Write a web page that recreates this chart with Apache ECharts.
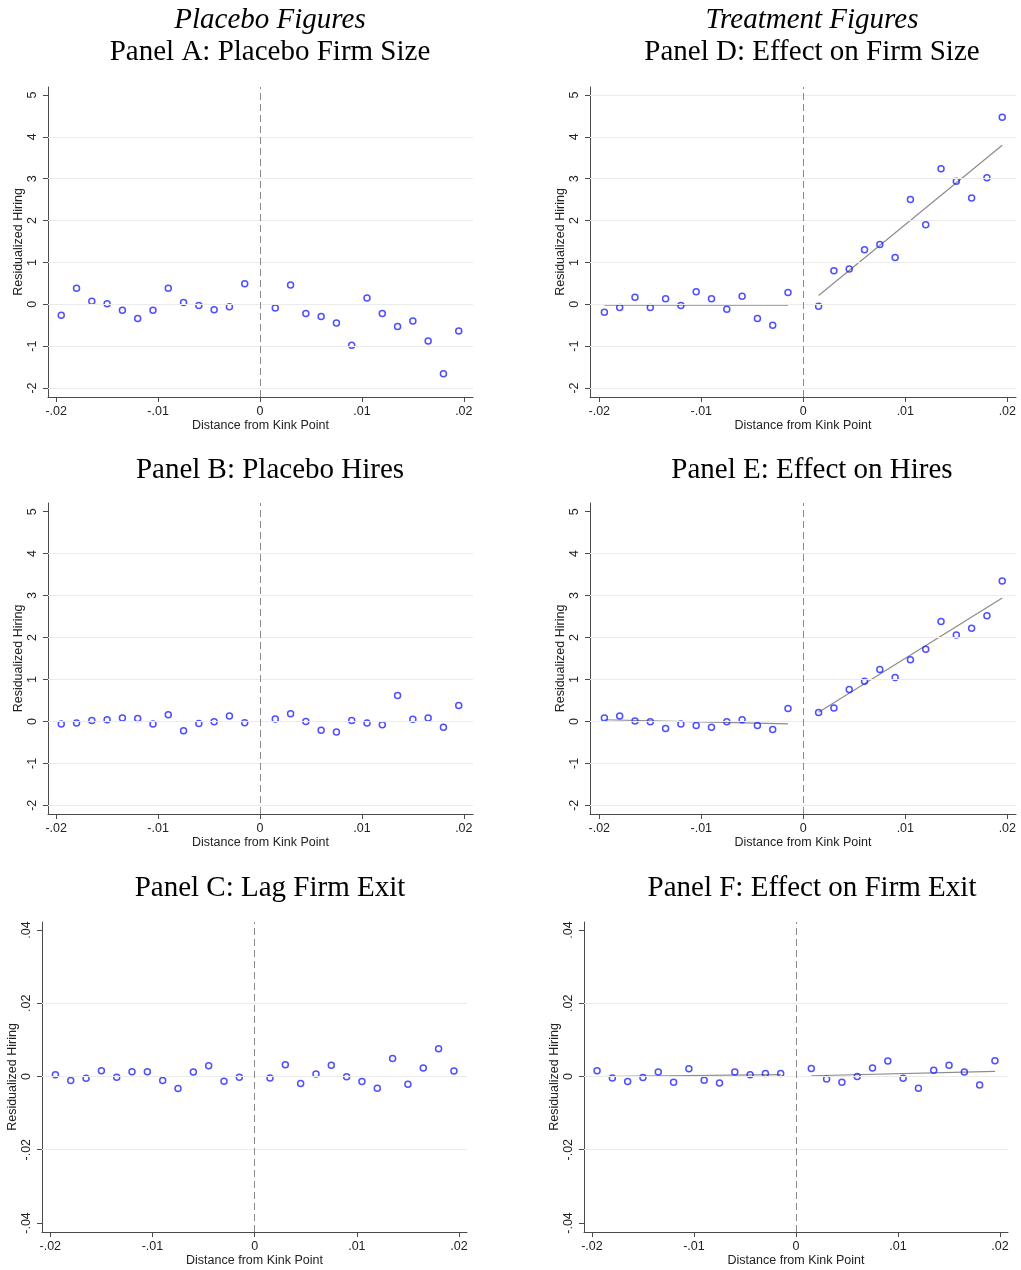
<!DOCTYPE html>
<html>
<head>
<meta charset="utf-8">
<script src="https://cdn.jsdelivr.net/npm/echarts@6/dist/echarts.min.js"></script>
<style>
html,body{margin:0;padding:0;background:#fff;}
#chart{width:1021px;height:1270px;}
</style>
</head>
<body>
<div id="chart"></div>
<script>
// ---- Data ----
const binX = [-0.0195,-0.018,-0.0165,-0.015,-0.0135,-0.012,-0.0105,-0.009,-0.0075,-0.006,-0.0045,-0.003,-0.0015,
               0.0015,0.003,0.0045,0.006,0.0075,0.009,0.0105,0.012,0.0135,0.015,0.0165,0.018,0.0195];

const panelA = [-0.26,0.38,0.07,0.01,-0.14,-0.34,-0.14,0.38,0.04,-0.03,-0.13,-0.06,0.49,
                -0.09,0.46,-0.22,-0.29,-0.45,-0.98,0.15,-0.22,-0.53,-0.40,-0.88,-1.66,-0.64];
const panelB = [-0.06,-0.04,0.02,0.04,0.08,0.07,-0.06,0.16,-0.22,-0.05,-0.01,0.13,-0.03,
                0.06,0.18,0.00,-0.21,-0.25,0.02,-0.04,-0.08,0.62,0.05,0.08,-0.14,0.38];
const panelC = [0.0005,-0.0011,-0.0005,0.0016,-0.0002,0.0013,0.0013,-0.0011,-0.0033,0.0012,0.0029,-0.0013,-0.0002,
                -0.0004,0.0032,-0.0019,0.0007,0.0031,-0.0001,-0.0014,-0.0032,0.0049,-0.0021,0.0023,0.0076,0.0015];
const panelD = [-0.19,-0.08,0.17,-0.08,0.13,-0.03,0.30,0.13,-0.12,0.19,-0.34,-0.50,0.28,
                -0.05,0.80,0.84,1.30,1.43,1.12,2.50,1.90,3.24,2.94,2.54,3.02,4.47];
const panelE = [0.08,0.13,0.01,-0.01,-0.17,-0.06,-0.10,-0.14,-0.01,0.04,-0.10,-0.19,0.31,
                0.21,0.32,0.76,0.96,1.24,1.05,1.47,1.72,2.38,2.06,2.22,2.52,3.35];
const panelF = [0.0016,-0.0004,-0.0014,-0.0003,0.0012,-0.0016,0.0021,-0.0010,-0.0018,0.0012,0.0005,0.0008,0.0008,
                0.0022,-0.0007,-0.0016,0.0000,0.0023,0.0042,-0.0005,-0.0032,0.0017,0.0031,0.0012,-0.0023,0.0043];

// fitted lines: [x, y] endpoints, left and right of the kink
const fitD = [[[-0.0195,-0.02],[-0.0015,-0.02]], [[0.0015,0.21],[0.0195,3.80]]];
const fitE = [[[-0.0195,0.04],[-0.0015,-0.06]], [[0.0015,0.22],[0.0195,2.94]]];
const fitF = [[[-0.0195,0.0000],[-0.0015,0.0005]], [[0.0015,0.0002],[0.0195,0.0014]]];

// ticks
const xTickVals = [-0.02,-0.01,0,0.01,0.02];
const xTickLabels = ['-.02','-.01','0','.01','.02'];
const yTickValsHire = [-2,-1,0,1,2,3,4,5];
const yTickLabelsHire = ['-2','-1','0','1','2','3','4','5'];
const yTickValsExit = [-0.04,-0.02,0,0.02,0.04];
const yTickLabelsExit = ['-.04','-.02','0','.02','.04'];

const columnHeads = ['Placebo Figures','Treatment Figures'];
const panelTitles = ['Panel A: Placebo Firm Size','Panel B: Placebo Hires','Panel C: Lag Firm Exit',
                     'Panel D: Effect on Firm Size','Panel E: Effect on Hires','Panel F: Effect on Firm Exit'];
const xName = 'Distance from Kink Point';
const yName = 'Residualized Hiring';

// ---- Layout ----
const SANS = '"Liberation Sans", Arial, sans-serif';
const SERIF = '"Liberation Serif", "Times New Roman", serif';
const panels = [
  {vals:panelA, fit:null, grid:{left:48,top:87,width:425,height:310}, x:[-0.0208,0.0209], y:[-2.215,5.19], yt:yTickValsHire, yl:yTickLabelsHire, gl:[-2,-1,0,1,2,3,4]},
  {vals:panelB, fit:null, grid:{left:48,top:503,width:425,height:311}, x:[-0.0208,0.0209], y:[-2.207,5.207], yt:yTickValsHire, yl:yTickLabelsHire, gl:[-2,-1,0,1,2,3,4]},
  {vals:panelC, fit:null, grid:{left:42,top:922,width:425,height:310}, x:[-0.02081,0.02078], y:[-0.04246,0.04218], yt:yTickValsExit, yl:yTickLabelsExit, gl:[-0.02,0,0.02]},
  {vals:panelD, fit:fitD, grid:{left:590,top:87,width:426,height:310}, x:[-0.02091,0.02085], y:[-2.215,5.19], yt:yTickValsHire, yl:yTickLabelsHire, gl:[-2,-1,0,1,2,3,4,5]},
  {vals:panelE, fit:fitE, grid:{left:590,top:503,width:426,height:311}, x:[-0.02091,0.02085], y:[-2.207,5.207], yt:yTickValsHire, yl:yTickLabelsHire, gl:[-2,-1,0,1,2,3,4]},
  {vals:panelF, fit:fitF, grid:{left:584,top:922,width:424,height:310}, x:[-0.02078,0.02078], y:[-0.04246,0.04218], yt:yTickValsExit, yl:yTickLabelsExit, gl:[-0.02,0,0.02]}
];

function lookup(vals, labels){
  return function(v){
    for (let i=0;i<vals.length;i++){ if (Math.abs(v-vals[i])<1e-9) return labels[i]; }
    return '';
  };
}

const grids=[], xAxes=[], yAxes=[], series=[];
const AX = '#4a4a4a';
panels.forEach((p,i)=>{
  grids.push(Object.assign({containLabel:false}, p.grid));
  xAxes.push({
    type:'value', gridIndex:i, min:p.x[0], max:p.x[1],
    name:xName, nameLocation:'middle', nameGap:22,
    nameTextStyle:{fontFamily:SANS,fontSize:12.5,color:'#222'},
    axisLine:{show:true,onZero:false,lineStyle:{color:AX,width:1}},
    axisTick:{show:true,length:5,lineStyle:{color:AX},customValues:xTickVals},
    axisLabel:{fontFamily:SANS,fontSize:12.5,color:'#222',margin:8,customValues:xTickVals,formatter:lookup(xTickVals,xTickLabels)},
    splitLine:{show:false}
  });
  yAxes.push({
    type:'value', gridIndex:i, min:p.y[0], max:p.y[1],
    name:yName, nameLocation:'middle', nameGap:23, nameRotate:90,
    nameTextStyle:{fontFamily:SANS,fontSize:12.5,color:'#222'},
    axisLine:{show:true,onZero:false,lineStyle:{color:AX,width:1}},
    axisTick:{show:true,length:5,lineStyle:{color:AX},customValues:p.yt},
    axisLabel:{fontFamily:SANS,fontSize:12.5,color:'#222',margin:9,rotate:90,customValues:p.yt,formatter:lookup(p.yt,p.yl)},
    splitLine:{show:false}
  });
  // gridlines + kink line
  series.push({
    type:'scatter', xAxisIndex:i, yAxisIndex:i, data:[], z:1, silent:true,
    markLine:{
      silent:true, symbol:['none','none'], label:{show:false}, animation:false,
      data: p.gl.map(v=>({yAxis:v, lineStyle:{color:'#ebebeb',type:'solid',width:1}}))
            .concat([{xAxis:0, lineStyle:{color:'#8a8a8a',type:[7,4],width:1}}])
    }
  });
  if (p.fit){
    p.fit.forEach(seg=>{
      series.push({type:'line', xAxisIndex:i, yAxisIndex:i, data:seg, symbol:'none', z:2,
        lineStyle:{color:'#8c8c8c',width:1.2}, animation:false});
    });
  }
  series.push({
    type:'scatter', xAxisIndex:i, yAxisIndex:i, z:3,
    data: binX.map((x,k)=>[x,p.vals[k]]),
    symbol:'circle', symbolSize:6,
    itemStyle:{color:'rgba(255,255,255,0)', borderColor:'#2323ff', borderWidth:1.5},
    animation:false
  });
});

function txt(s, x, y, italic){
  return {type:'text', x:x, y:y, style:{text:s, font:(italic?'italic ':'')+'29px '+SERIF, fill:'#000', align:'center', verticalAlign:'middle'}};
}
const graphics = [
  txt(columnHeads[0], 270, 20, true),
  txt(columnHeads[1], 812, 20, true),
  txt(panelTitles[0], 270, 52),
  txt(panelTitles[1], 270, 470),
  txt(panelTitles[2], 270, 888),
  txt(panelTitles[3], 812, 52),
  txt(panelTitles[4], 812, 470),
  txt(panelTitles[5], 812, 888)
];

const chart = echarts.init(document.getElementById('chart'), null, {renderer:'canvas'});
chart.setOption({
  animation:false,
  backgroundColor:'#fff',
  grid:grids, xAxis:xAxes, yAxis:yAxes, series:series,
  graphic:graphics
});
</script>
</body>
</html>
